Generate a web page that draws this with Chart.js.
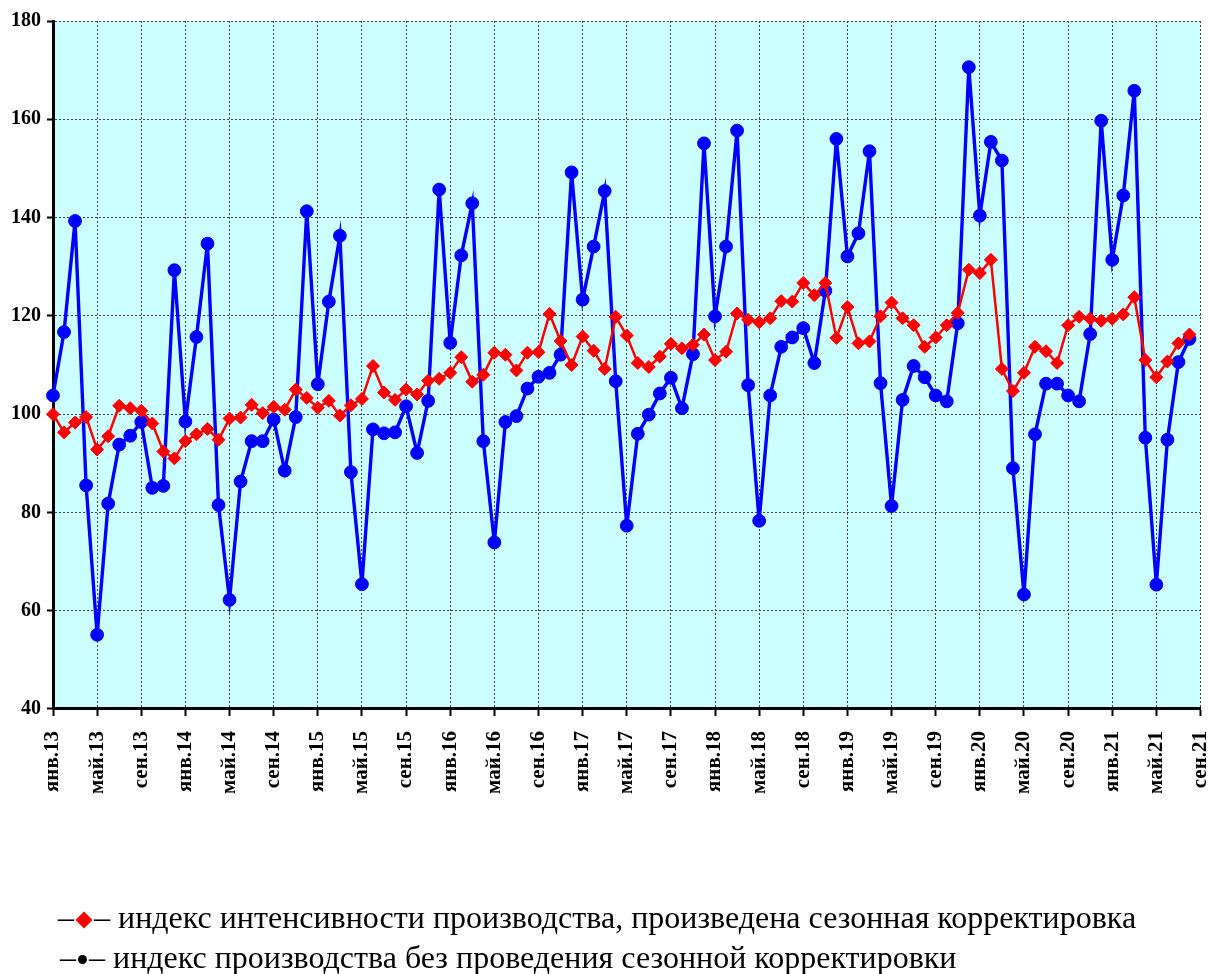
<!DOCTYPE html>
<html lang="ru">
<head>
<meta charset="UTF-8">
<title>Индекс производства</title>
<style>
  html, body { margin: 0; padding: 0; background: #fff; }
  #wrap { position: relative; width: 1208px; height: 974px; }
  #chart { position: absolute; left: 0; top: 0; }
  .leg {
    position: absolute;
    font-family: "Liberation Serif", "Times New Roman", serif;
    font-size: 32px;
    line-height: 40px;
    color: #000;
    white-space: nowrap;
  }
  .dia {
    display: inline-block; width: 12px; height: 12px; background: #f00;
    transform: rotate(45deg); margin: 0 4px; vertical-align: 2px;
  }
  .dot {
    display: inline-block; width: 9px; height: 9px; background: #000;
    border-radius: 50%; margin: 0 2px; vertical-align: 4px;
  }
</style>
</head>
<body>
<div id="wrap">
  <canvas id="chart" width="1208" height="974"></canvas>
  <div class="leg" style="left:58px; top:897px;">–<span class="dia"></span>– индекс интенсивности производства, произведена сезонная корректировка</div>
  <div class="leg" style="left:60px; top:937px;">–<span class="dot"></span>– индекс производства без проведения сезонной корректировки</div>
</div>

<script src="https://cdn.jsdelivr.net/npm/chart.js@4/dist/chart.umd.min.js"></script>
<script>
// months and years for the category axis
var months = ['янв', 'фев', 'мар', 'апр', 'май', 'июн', 'июл', 'авг', 'сен', 'окт', 'ноя', 'дек'];
var years = ['13', '14', '15', '16', '17', '18', '19', '20', '21'];

// seasonally adjusted index (red), Jan 2013 - Aug 2021
var adjusted = [
  100.0, 96.3, 98.3, 99.4, 92.8, 95.5, 101.7, 101.2, 100.7, 98.1, 92.4, 91.0,
  94.5, 95.9, 97.0, 94.8, 99.1, 99.3, 101.9, 100.2, 101.5, 100.9, 105.0, 103.3,
  101.3, 102.7, 99.7, 101.8, 103.1, 109.8, 104.4, 102.9, 105.0, 104.0, 106.8, 107.2,
  108.4, 111.6, 106.6, 108.0, 112.5, 112.1, 108.9, 112.5, 112.6, 120.4, 114.9, 110.0,
  115.8, 112.9, 109.2, 119.8, 116.0, 110.4, 109.6, 111.7, 114.3, 113.4, 114.1, 116.2,
  111.0, 112.7, 120.5, 119.2, 118.7, 119.5, 123.0, 122.9, 126.7, 124.2, 126.7, 115.5,
  121.8, 114.4, 114.8, 119.9, 122.7, 119.5, 118.1, 113.7, 115.6, 118.1, 120.6, 129.4,
  128.7, 131.4, 109.2, 104.7, 108.4, 113.7, 112.8, 110.4, 118.1, 119.8, 119.4, 119.0,
  119.4, 120.3, 123.8, 111.0, 107.5, 110.7, 114.4, 116.2
];

// index without seasonal adjustment (blue)
var raw = [
  103.8, 116.7, 139.3, 85.5, 55.1, 81.8, 93.8, 95.6, 98.4, 85.0, 85.4, 129.3,
  98.5, 115.7, 134.7, 81.5, 62.2, 86.3, 94.5, 94.5, 98.9, 88.5, 99.4, 141.3,
  106.1, 122.9, 136.3, 88.2, 65.4, 96.9, 96.1, 96.3, 101.6, 92.1, 102.7, 145.7,
  114.5, 132.3, 142.9, 94.5, 73.9, 98.4, 99.6, 105.2, 107.6, 108.4, 112.1, 149.2,
  123.3, 134.1, 145.4, 106.7, 77.3, 96.0, 99.9, 104.2, 107.4, 101.2, 112.2, 155.1,
  119.9, 134.1, 157.7, 105.9, 78.3, 103.8, 113.7, 115.6, 117.5, 110.4, 125.1, 156.0,
  132.1, 136.8, 153.5, 106.3, 81.3, 102.9, 109.8, 107.5, 103.8, 102.6, 118.5, 170.6,
  140.4, 155.4, 151.6, 89.0, 63.3, 95.9, 106.2, 106.2, 103.8, 102.6, 116.3, 159.7,
  131.4, 144.5, 165.8, 95.2, 65.3, 94.8, 110.6, 115.3
];

var labels = [];
years.forEach(function (y) {
  months.forEach(function (m) {
    if (labels.length < 105) labels.push(m + '.' + y);
  });
});

var serif = '"Liberation Serif", "Times New Roman", serif';

// light cyan plot area like the original
var plotBg = {
  id: 'plotBg',
  beforeDraw: function (chart) {
    var a = chart.chartArea, ctx = chart.ctx;
    ctx.save();
    ctx.fillStyle = '#ccffff';
    ctx.fillRect(a.left, a.top, a.right - a.left, a.bottom - a.top);
    ctx.restore();
  }
};

new Chart(document.getElementById('chart'), {
  type: 'line',
  data: {
    labels: labels,
    datasets: [
      {
        label: 'индекс интенсивности производства, произведена сезонная корректировка',
        data: adjusted,
        borderColor: '#ff0000',
        backgroundColor: '#ff0000',
        borderWidth: 2.5,
        pointStyle: 'rectRot',
        pointRadius: 6.5,
        pointBorderWidth: 1,
        tension: 0
      },
      {
        label: 'индекс производства без проведения сезонной корректировки',
        data: raw,
        borderColor: '#0000ff',
        backgroundColor: '#0000ff',
        borderWidth: 3.4,
        pointStyle: 'circle',
        pointRadius: 6.4,
        pointBorderWidth: 1,
        tension: 0
      }
    ]
  },
  options: {
    responsive: false,
    animation: false,
    layout: { padding: { left: 5, top: 21, right: 7, bottom: 165 } },
    plugins: {
      legend: { display: false },
      tooltip: { enabled: false }
    },
    scales: {
      x: {
        type: 'category',
        offset: false,
        // rotated labels do not need side room
        afterFit: function (scale) { scale.paddingRight = 0; scale.paddingLeft = 0; },
        grid: { color: '#444', lineWidth: 1, tickLength: 7, tickColor: '#000', tickWidth: 2 },
        border: { display: true, color: '#000', width: 3, dash: [2, 2] },
        ticks: {
          autoSkip: false,
          maxRotation: 90,
          minRotation: 90,
          padding: 15,
          color: '#000',
          font: { family: serif, size: 21, weight: 'bold' },
          callback: function (v, i) { return i % 4 === 0 ? labels[i] : null; }
        }
      },
      y: {
        min: 40,
        max: 180,
        grid: { color: '#444', lineWidth: 1, tickLength: 6, tickColor: '#000', tickWidth: 2 },
        border: { display: true, color: '#000', width: 3, dash: [2, 2] },
        ticks: { stepSize: 20, padding: 6, color: '#000', font: { family: serif, size: 20, weight: 'bold' } }
      }
    }
  },
  plugins: [plotBg]
});
</script>
</body>
</html>
